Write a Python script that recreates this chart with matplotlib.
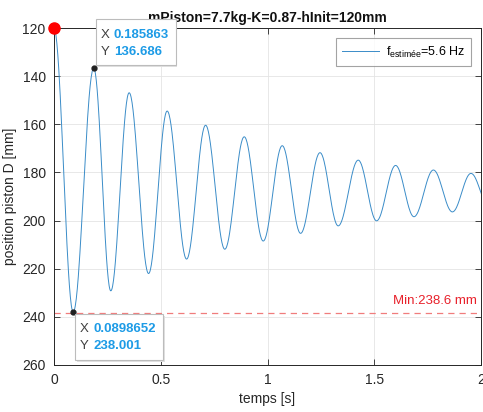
import numpy as np
import matplotlib
matplotlib.use("Agg")
import matplotlib.pyplot as plt
from matplotlib.patches import Rectangle
from matplotlib.transforms import IdentityTransform

plt.rcParams['font.family'] = ['Liberation Sans', 'DejaVu Sans']
plt.rcParams['mathtext.fontset'] = 'custom'
plt.rcParams['mathtext.rm'] = 'Liberation Sans'
plt.rcParams['mathtext.it'] = 'Liberation Sans:italic'

# Successive extrema of the piston position (time [s], position [mm])
extrema_t = [0.0, 0.0899, 0.186, 0.266, 0.352, 0.443, 0.530, 0.621, 0.710,
             0.800, 0.891, 0.980, 1.069, 1.155, 1.246, 1.331, 1.425, 1.511,
             1.600, 1.686, 1.777, 1.866, 1.953, 2.040]
extrema_v = [120.0, 238.0, 136.7, 229.2, 146.9, 222.0, 154.5, 216.0, 160.4,
             211.9, 165.2, 208.5, 168.9, 205.3, 171.8, 202.2, 174.9, 200.1,
             177.1, 198.4, 179.0, 196.4, 180.4, 194.8]

tip_peak = (0.185863, 136.686)
tip_trough = (0.0898652, 238.001)
start_point = (0.0, 120.0)
min_level = 238.6
freq_est = 5.6

title = "mPiston=7.7kg-K=0.87-hInit=120mm"
x_ticks = [0, 0.5, 1, 1.5, 2]
x_ticklabels = ["0", "0.5", "1", "1.5", "2"]
y_ticks = [120, 140, 160, 180, 200, 220, 240, 260]

# smooth half-cosine arcs between consecutive extrema
tt, vv = [], []
for i in range(len(extrema_t) - 1):
    s = np.linspace(0, 1, 40, endpoint=False)
    t0, t1 = extrema_t[i], extrema_t[i + 1]
    v0, v1 = extrema_v[i], extrema_v[i + 1]
    tt.append(t0 + (t1 - t0) * s)
    vv.append(v0 + (v1 - v0) * (1 - np.cos(np.pi * s)) / 2)
tt.append([extrema_t[-1]])
vv.append([extrema_v[-1]])
tt = np.concatenate(tt)
vv = np.concatenate(vv)

W, H = 483, 412
fig = plt.figure(figsize=(W / 100, H / 100), dpi=100)
fig.patch.set_facecolor('white')
ax = fig.add_axes([54 / W, 1 - 365 / H, (481 - 54) / W, (365 - 28) / H])

axis_col = '#262626'
ax.plot(tt, vv, color='#3a8cc8', lw=0.7,
        label=r'f$_{\mathrm{estimée}}$=%.1f Hz' % freq_est)
ax.axhline(min_level, color='#f07c7c', lw=0.9, ls=(0, (5, 4)))
ax.text(0.99, min_level - 2.5, f"Min:{min_level} mm", color='#e8202a',
        fontsize=9.5, ha='right', va='bottom',
        transform=ax.get_yaxis_transform())

ax.set_xlim(0, 2)
ax.set_ylim(260, 120)
ax.set_xticks(x_ticks)
ax.set_xticklabels(x_ticklabels)
ax.set_yticks(y_ticks)
ax.grid(True, color='#e4e4e4', lw=0.6)
ax.set_axisbelow(True)
ax.tick_params(direction='in', length=4, width=0.6, colors=axis_col,
               labelsize=10, top=True, right=True, pad=6)
for sp in ax.spines.values():
    sp.set_color(axis_col)
    sp.set_linewidth(0.7)

ax.set_xlabel("temps [s]", fontsize=10, color=axis_col, labelpad=3)
ax.set_ylabel("position piston D [mm]", fontsize=10, color=axis_col,
              labelpad=4)
ax.set_title(title, fontsize=10, fontweight='bold', color='#101010',
             pad=4, zorder=1)

leg = ax.legend(loc='upper right', bbox_to_anchor=(0.977, 0.969),
                borderaxespad=0, fontsize=9, frameon=True, fancybox=False,
                handlelength=3.0, handletextpad=0.5, borderpad=0.5)
leg.get_frame().set_edgecolor('#8c8c8c')
leg.get_frame().set_linewidth(0.8)

ax.plot(*start_point, 'o', color='#ff0000', ms=8, clip_on=False, zorder=6)
ax.plot(*tip_peak, 'o', color='#202020', ms=3.5, clip_on=False, zorder=6)
ax.plot(*tip_trough, 'o', color='#202020', ms=3.5, clip_on=False, zorder=6)


def datatip(pt, dx, dy, w, h, lines_dy):
    """Boxed x/y readout anchored near a data point (pixel offsets, y down)."""
    px, py = ax.transData.transform(pt)
    left = px + dx
    top = py - dy
    shadow = Rectangle((left + 1.5, top - h - 1.5), w, h,
                       transform=IdentityTransform(),
                       facecolor='#e0e0e0', edgecolor='none', zorder=19)
    box = Rectangle((left, top - h), w, h, transform=IdentityTransform(),
                    facecolor='white', edgecolor='#bcbcbc', lw=0.8, zorder=20)
    fig.add_artist(shadow)
    fig.add_artist(box)
    vals = [f"{pt[0]:.6g}", f"{pt[1]:.6g}"]
    for lab, val, ly in zip(["X", "Y"], vals, lines_dy):
        fig.text(left + 5, top - ly, lab, transform=IdentityTransform(),
                 fontsize=9.5, color='#404040', va='center', ha='left',
                 zorder=21)
        fig.text(left + 18, top - ly, val, transform=IdentityTransform(),
                 fontsize=9.5, color='#1d9be6', fontweight='bold',
                 va='center', ha='left', zorder=21)


datatip(tip_peak, 2, -49, 80, 46, [16, 33])
datatip(tip_trough, 2, 2, 88, 46, [15, 32])

fig.savefig("out.png", dpi=100, facecolor='white')
